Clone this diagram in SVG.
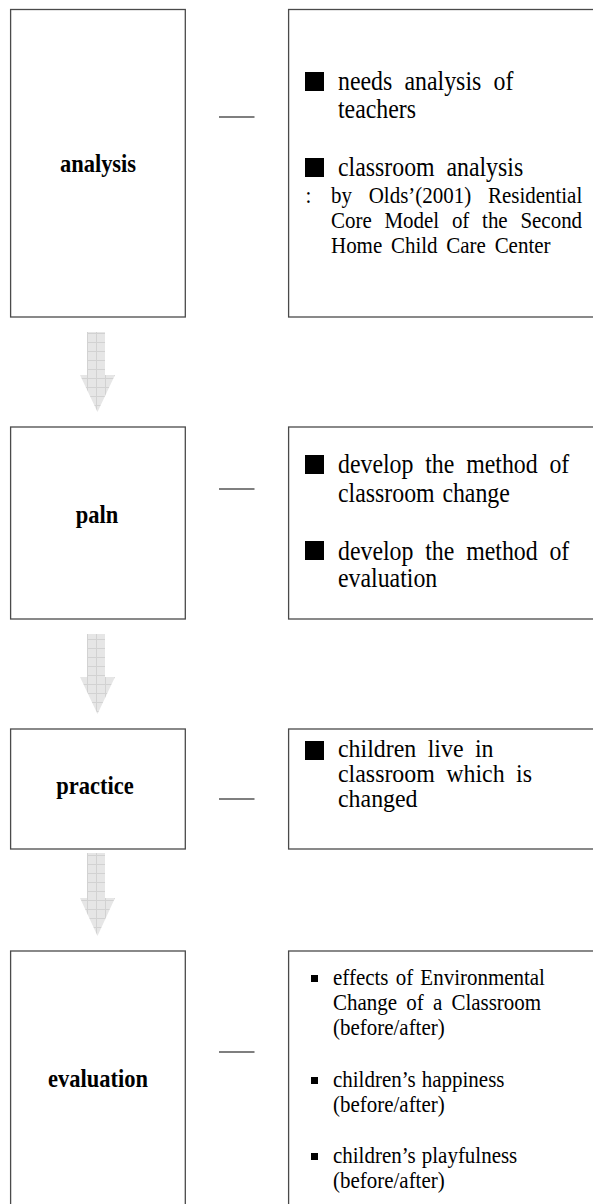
<svg xmlns="http://www.w3.org/2000/svg" width="593" height="1204" viewBox="0 0 593 1204">
<style>
.box{fill:#fff;stroke:#4a4a4a;stroke-width:1.3}
.lbl{font-family:"Liberation Serif","Times New Roman",serif;font-weight:bold;font-size:25px;fill:#000;text-anchor:middle}
.big{font-family:"Liberation Serif","Times New Roman",serif;font-size:26.5px;fill:#000}
.mid{font-family:"Liberation Serif","Times New Roman",serif;font-size:24.5px;fill:#000}
.sm{font-family:"Liberation Serif","Times New Roman",serif;font-size:23.3px;fill:#000}
.dash{stroke:#000;stroke-width:1.2}
.arrow{fill:url(#grid);stroke:none}
</style>
<defs>
<pattern id="grid" patternUnits="userSpaceOnUse" x="87" y="0" width="9" height="9">
<rect width="9" height="9" fill="#e6e6e6"/>
<path d="M0 0.5H9M0.5 0V9" stroke="#d2d2d2" stroke-width="1" fill="none"/>
</pattern>
</defs>
<rect width="593" height="1204" fill="#fff"/>
<g id="connectors">
<line class="dash" x1="219" y1="117" x2="254.5" y2="117"/>
<line class="dash" x1="219" y1="489" x2="254.5" y2="489"/>
<line class="dash" x1="219" y1="799" x2="254.5" y2="799"/>
<line class="dash" x1="219" y1="1052" x2="254.5" y2="1052"/>
<polygon class="arrow" points="87,332 105,332 105,375 115,375 97.5,412 80,375 87,375"/>
<polygon class="arrow" points="87,634 105,634 105,677 115,677 97.5,714 80,677 87,677"/>
<polygon class="arrow" points="87,853 105,853 105,898 115,898 97.5,936 80,898 87,898"/>
</g>
<g id="node-analysis">
<rect class="box" x="10.6" y="9.5" width="174.7" height="307.5"/>
<text class="lbl" transform="translate(98 172) scale(0.9 1)">analysis</text>
</g>
<g id="node-analysis-detail">
<rect class="box" x="288.6" y="9.5" width="320" height="307.5"/>
<rect x="305" y="72" width="19" height="19" fill="#000"/>
<text class="big" transform="translate(338 90) scale(0.9 1)" word-spacing="7">needs analysis of</text>
<text class="big" transform="translate(338 118) scale(0.9 1)">teachers</text>
<rect x="305" y="158" width="19" height="19" fill="#000"/>
<text class="big" transform="translate(338 176) scale(0.9 1)" word-spacing="6.5">classroom analysis</text>
<text class="sm" transform="translate(305.6 203) scale(0.9 1)">:</text>
<text class="sm" transform="translate(331 203) scale(0.9 1)" word-spacing="12.8">by Olds’(2001) Residential</text>
<text class="sm" transform="translate(331 228) scale(0.9 1)" word-spacing="8.3">Core Model of the Second</text>
<text class="sm" transform="translate(331 253) scale(0.9 1)" word-spacing="3.9">Home Child Care Center</text>
</g>
<g id="node-paln">
<rect class="box" x="10.6" y="427" width="174.7" height="192"/>
<text class="lbl" transform="translate(97 523) scale(0.9 1)">paln</text>
</g>
<g id="node-paln-detail">
<rect class="box" x="288.6" y="427" width="320" height="192"/>
<rect x="305" y="455" width="19" height="19" fill="#000"/>
<text class="big" transform="translate(338 473) scale(0.9 1)" word-spacing="6.5">develop the method of</text>
<text class="big" transform="translate(338 502) scale(0.9 1)" word-spacing="2">classroom change</text>
<rect x="305" y="541" width="19" height="19" fill="#000"/>
<text class="big" transform="translate(338 560) scale(0.9 1)" word-spacing="6.5">develop the method of</text>
<text class="big" transform="translate(338 587) scale(0.9 1)">evaluation</text>
</g>
<g id="node-practice">
<rect class="box" x="10.6" y="729" width="174.7" height="120"/>
<text class="lbl" transform="translate(95 794) scale(0.9 1)">practice</text>
</g>
<g id="node-practice-detail">
<rect class="box" x="288.6" y="729" width="320" height="120"/>
<rect x="305" y="741" width="19" height="19" fill="#000"/>
<text class="mid" transform="translate(338 757) scale(0.975 1)" word-spacing="5.6">children live in</text>
<text class="mid" transform="translate(338 782) scale(0.975 1)" word-spacing="5.6">classroom which is</text>
<text class="mid" transform="translate(338 807) scale(0.975 1)">changed</text>
</g>
<g id="node-evaluation">
<rect class="box" x="10.6" y="951" width="174.7" height="280"/>
<text class="lbl" transform="translate(98 1087) scale(0.9 1)">evaluation</text>
</g>
<g id="node-evaluation-detail">
<rect class="box" x="288.6" y="951" width="320" height="280"/>
<rect x="311" y="975" width="7" height="7" fill="#000"/>
<text class="sm" transform="translate(333 985) scale(0.9 1)" word-spacing="2.2">effects of Environmental</text>
<text class="sm" transform="translate(333 1010) scale(0.9 1)" word-spacing="4.4">Change of a Classroom</text>
<text class="sm" transform="translate(333 1035) scale(0.9 1)">(before/after)</text>
<rect x="311" y="1077" width="7" height="7" fill="#000"/>
<text class="sm" transform="translate(333 1087) scale(0.9 1)" word-spacing="1">children’s happiness</text>
<text class="sm" transform="translate(333 1112) scale(0.9 1)">(before/after)</text>
<rect x="311" y="1153" width="7" height="7" fill="#000"/>
<text class="sm" transform="translate(333 1163) scale(0.9 1)" word-spacing="1">children’s playfulness</text>
<text class="sm" transform="translate(333 1188) scale(0.9 1)">(before/after)</text>
</g>
</svg>
